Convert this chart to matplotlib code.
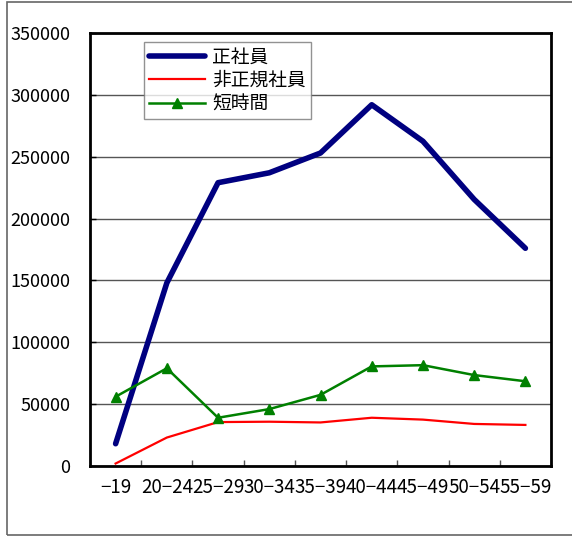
import matplotlib
matplotlib.use("Agg")
import matplotlib.pyplot as plt
from matplotlib.patches import Rectangle
import numpy as np

plt.rcParams['font.family'] = ['Noto Sans CJK JP', 'DejaVu Sans']

categories = ["−19", "20−24", "25−29", "30−34", "35−39", "40−44", "45−49", "50−54", "55−59"]
seishain = [18000, 148000, 229000, 237000, 253000, 292000, 262500, 215500, 176000]
hiseiki = [2000, 23000, 35500, 35800, 35200, 39000, 37500, 34000, 33200]
tanjikan = [56000, 79000, 39000, 46000, 57500, 80500, 81500, 73500, 68500]
series_names = ["正社員", "非正規社員", "短時間"]
yticks = [0, 50000, 100000, 150000, 200000, 250000, 300000, 350000]

fig = plt.figure(figsize=(5.72, 5.36), dpi=100)
ax = fig.add_axes([90/572, 1-466/536, 461/572, 433/536])

x = np.arange(len(categories))
ax.plot(x, seishain, color='#000080', lw=4, solid_capstyle='round', label=series_names[0], zorder=3)
ax.plot(x, hiseiki, color='#ff0000', lw=1.6, label=series_names[1], zorder=3)
ax.plot(x, tanjikan, color='#008000', lw=1.8, marker='^', markersize=7, label=series_names[2], zorder=3)

ax.set_xlim(-0.5, len(categories) - 0.5)
ax.set_ylim(0, 350000)
ax.set_yticks(yticks)
ax.set_yticklabels([str(v) for v in yticks], fontsize=13)
ax.yaxis.grid(True, color='#555555', lw=1)
ax.set_axisbelow(True)
ax.tick_params(axis='y', direction='in', length=4, width=1, pad=14)

ax.set_xticks(x)
ax.set_xticklabels(categories, fontsize=13.5)
ax.set_xticks(np.arange(len(categories) + 1) - 0.5, minor=True)
ax.tick_params(axis='x', which='major', length=0, pad=8)
ax.tick_params(axis='x', which='minor', direction='in', length=4, width=1, color='#555555')

for s in ax.spines.values():
    s.set_linewidth(2)
    s.set_color('black')

leg = ax.legend(loc='upper left', bbox_to_anchor=((144-90)/461, (466-42)/433),
                fontsize=13.5, frameon=True, fancybox=False, edgecolor='#777777',
                handlelength=3.0, borderpad=0.25, labelspacing=0.12, handletextpad=0.4,
                borderaxespad=0)
leg.get_frame().set_linewidth(1)

fig.patches.append(Rectangle((7/572, 1/536), 1.2, 1 - 2.5/536, transform=fig.transFigure,
                             fill=False, edgecolor='#666666', lw=1.2))

fig.savefig('out.png', dpi=100)
